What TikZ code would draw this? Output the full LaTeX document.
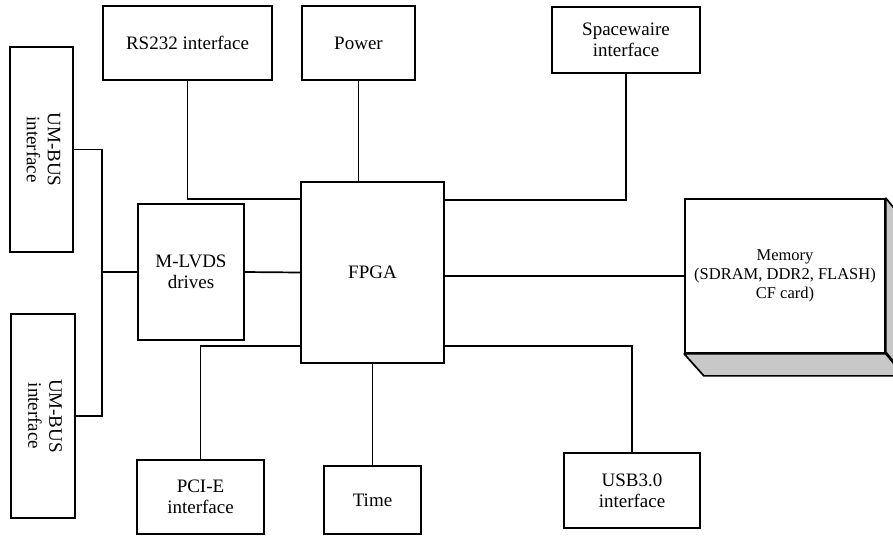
\documentclass[tikz,border=0pt]{standalone}
\usepackage{fontspec}
\setmainfont{Liberation Serif}
\definecolor{memgray}{RGB}{200,200,200}
\begin{document}
\begin{tikzpicture}[x=1pt, y=-1pt, line width=1.7pt,
    box/.style={draw, fill=white, inner sep=0pt, align=center, font=\fontsize{19}{21}\selectfont}]

        \clip (0,0) rectangle (893,536);

        % left side
        \node[box, minimum width=63pt, minimum height=205pt] (umtop) at (41.5,149.5)
            {\rotatebox{-90}{\begin{tabular}{@{}c@{}}UM-BUS\\interface\end{tabular}}};
        \node[box, minimum width=64pt, minimum height=204pt] (umbot) at (43,416)
            {\rotatebox{-90}{\begin{tabular}{@{}c@{}}UM-BUS\\interface\end{tabular}}};
        \node[box, minimum width=106pt, minimum height=136pt] (lvds) at (191,272) {M-LVDS\\drives};

        % centre
        \node[box, minimum width=143pt, minimum height=181pt] (fpga) at (372.5,272.5) {FPGA};

        % top row
        \node[box, minimum width=169pt, minimum height=74pt] (rs232) at (187.5,43) {RS232 interface};
        \node[box, minimum width=113pt, minimum height=74pt] (power) at (358.5,43) {Power};
        \node[box, minimum width=148pt, minimum height=66pt] (spw) at (626,40) {Spacewaire\\interface};

        % bottom row
        \node[box, minimum width=127pt, minimum height=74pt] (pcie) at (200.5,497) {PCI-E\\interface};
        \node[box, minimum width=97pt, minimum height=68pt] (time) at (372.5,500) {Time};
        \node[box, minimum width=136pt, minimum height=75pt] (usb) at (632,490.5) {USB3.0\\interface};

        % memory block with depth
        \node[box, minimum width=200pt, minimum height=154pt, font=\fontsize{16.5}{19}\selectfont] (mem) at (785,276)
            {Memory\\(SDRAM, DDR2, FLASH)\\CF card)};
        \filldraw[fill=memgray, line join=round] (mem.north east) -- ++(18,22) -- ++(0,154) -- ++(-18,-22) -- cycle;
        \filldraw[fill=memgray, line join=round] (mem.south west) -- (mem.south east) -- ++(18,22) -- ++(-200,0) -- cycle;

        % connections
        \coordinate (bus) at (102,272);
        \draw (umtop.east) -| (bus) |- (umbot.east);
        \draw (bus) -- (lvds.west);
        \draw (lvds.east) -- (fpga.west);

        \draw (rs232.south) |- (fpga.west |- 0,199);
        \draw (power.south) -- (power.south |- fpga.north);
        \draw (spw.south) |- (fpga.east |- 0,200);
        \draw (fpga.east |- mem.west) -- (mem.west);

        \draw (fpga.west |- 0,346) -| (pcie.north);
        \draw (fpga.south) -- (time.north);
        \draw (fpga.east |- 0,346) -| (usb.north);

    \end{tikzpicture}
\end{document}
